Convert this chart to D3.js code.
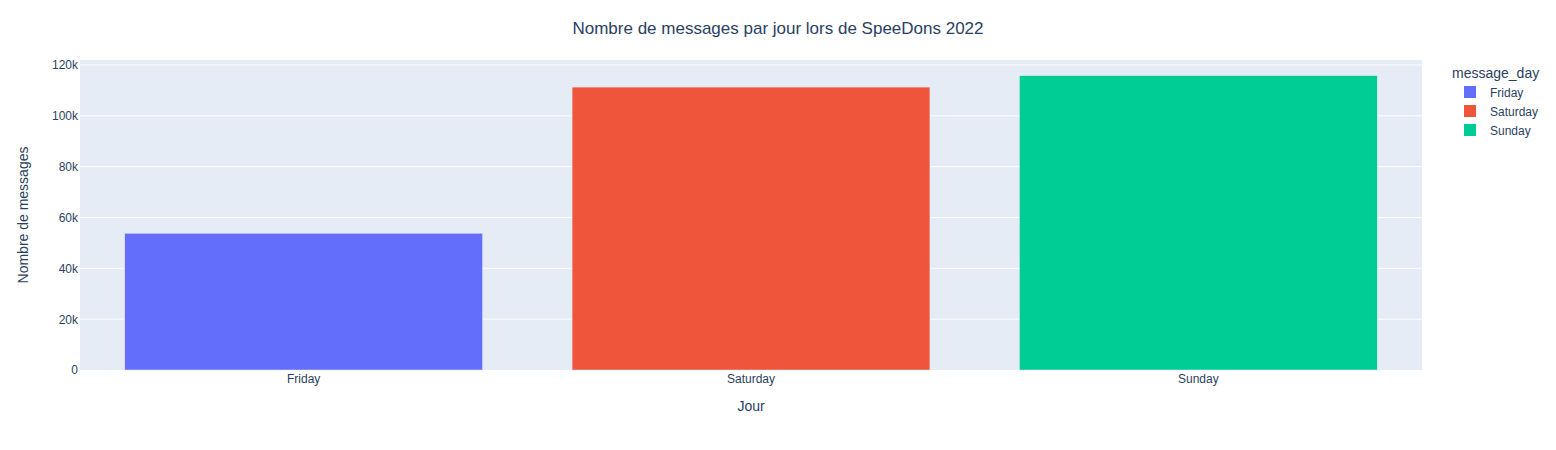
<!DOCTYPE html>
<html><head><meta charset="utf-8">
<script src="https://cdn.jsdelivr.net/npm/d3@7"></script>
<style>body{margin:0;background:#fff}svg{font-family:"Liberation Sans",Arial,sans-serif}</style>
</head><body><div id="c"></div>
<script>
const categories = ["Friday","Saturday","Sunday"];
const values = [53800, 111300, 115800];
const colors = ["#636efa","#EF553B","#00cc96"];
const yTicks = [0,20000,40000,60000,80000,100000,120000];
const yTickLabels = ["0","20k","40k","60k","80k","100k","120k"];

const W=1556,H=450, m={l:80,r:134,t:60,b:80};
const pw=W-m.l-m.r, ph=H-m.t-m.b;
const svg=d3.select("#c").append("svg").attr("width",W).attr("height",H);
const g=svg.append("g").attr("transform",`translate(${m.l},${m.t})`);
g.append("rect").attr("width",pw).attr("height",ph).attr("fill","#E5ECF6");
const x=d3.scaleBand().domain(categories).range([0,pw]).paddingInner(0.2).paddingOuter(0.1);
const y=d3.scaleLinear().domain([0,121950]).range([ph,0]);
const tc="#2a3f5f";
// grid
g.selectAll(".grid").data(yTicks.slice(1)).join("line")
 .attr("x1",0).attr("x2",pw).attr("y1",d=>y(d)).attr("y2",d=>y(d))
 .attr("stroke","#fff").attr("stroke-width",1);
// bars
g.selectAll(".bar").data(categories).join("rect")
 .attr("x",d=>x(d)).attr("width",x.bandwidth())
 .attr("y",(d,i)=>y(values[i])).attr("height",(d,i)=>ph-y(values[i]))
 .attr("fill",(d,i)=>colors[i]).attr("stroke","#E5ECF6").attr("stroke-width",0.5);
// y axis
const ya=d3.axisLeft(y).tickValues(yTicks).tickFormat((d,i)=>yTickLabels[i]).tickSize(0).tickPadding(2);
const yg=g.append("g").call(ya);
yg.select(".domain").remove();
yg.selectAll("text").attr("fill",tc).style("font-size","12px");
// x axis
const xa=d3.axisBottom(x).tickSize(0).tickPadding(4);
const xg=g.append("g").attr("transform",`translate(0,${ph})`).call(xa);
xg.select(".domain").remove();
xg.selectAll("text").attr("fill",tc).style("font-size","12px");
// titles
svg.append("text").attr("x",778).attr("y",34).attr("text-anchor","middle").attr("fill",tc).style("font-size","17px")
 .text("Nombre de messages par jour lors de SpeeDons 2022");
svg.append("text").attr("x",m.l+pw/2).attr("y",411).attr("text-anchor","middle").attr("fill",tc).style("font-size","14px").text("Jour");
svg.append("text").attr("transform",`translate(28,${m.t+ph/2}) rotate(-90)`).attr("text-anchor","middle").attr("fill",tc).style("font-size","14px").text("Nombre de messages");
// legend
const lg=svg.append("g").attr("transform","translate(1452,0)");
lg.append("text").attr("x",0).attr("y",78).attr("fill",tc).style("font-size","14px").text("message_day");
categories.forEach((c,i)=>{
  const yy=92+i*19;
  lg.append("rect").attr("x",12).attr("y",yy-6).attr("width",12).attr("height",12).attr("fill",colors[i]);
  lg.append("text").attr("x",38).attr("y",yy+4.5).attr("fill",tc).style("font-size","12px").text(c);
});
</script></body></html>
